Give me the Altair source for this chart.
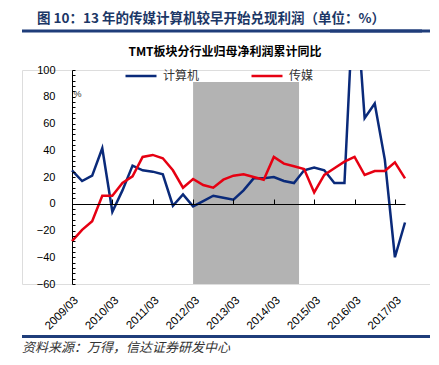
import altair as alt
import pandas as pd

# quarterly index 0 = 2009/03 ... 33 = 2017/06
quarters = [f"{2009 + i // 4}/{['03', '06', '09', '12'][i % 4]}" for i in range(34)]
computer = [25, 17, 21, 41.5, -6, 10, 28.5, 25, 24, 22, -1.5, 7,
            -2, 2, 6, 4.5, 3, 10, 19, 19, 20, 17, 15.5, 25,
            27, 25, 15.5, 15.5, 170, 64, 75, 33, -40, -14]
media = [-28, -19.5, -13, 6, 6, 15.5, 20.5, 35, 36.5, 34, 25, 12,
         18.5, 14, 12, 18, 21, 22, 20, 18, 35, 30, 28, 26,
         8.5, 21.5, 26.5, 31.5, 35, 21.5, 24.5, 24.5, 31, 19]
series_names = ["计算机", "传媒"]
series_colors = ["#0a2a7a", "#e60012"]
band_start, band_end, band_top, band_bottom = [12], [22.5], [91], [-60]
year_ticks = [0, 4, 8, 12, 16, 20, 24, 28, 32]
y_ticks = [-60, -40, -20, 0, 20, 40, 60, 80, 100]
y_minor = list(range(-60, 101, 4))

header_text = "图 10：13 年的传媒计算机较早开始兑现利润（单位：%）"
chart_title = "TMT板块分行业归母净利润累计同比"
footer_text = "资料来源：万得，信达证券研发中心"

CJK = "Noto Sans CJK SC"
LAT = "Liberation Sans"

W, H = 408, 214          # view: page x 22..430, y 70..284
PX0, PX1 = 50, 383       # plotting range inside the view (page x 72..405)

rows = []
for i in range(34):
    rows.append({"idx": i, "q": quarters[i], "series": series_names[0], "value": computer[i]})
    rows.append({"idx": i, "q": quarters[i], "series": series_names[1], "value": media[i]})
df = pd.DataFrame(rows)
band = pd.DataFrame({"x": band_start, "x2": band_end, "y": band_bottom, "y2": band_top})

xs = alt.Scale(domain=[0, 33], range=[PX0, PX1], nice=False, zero=False)
ys = alt.Scale(domain=[-60, 100], nice=False, zero=False)

band_layer = alt.Chart(band).mark_rect(color="#b3b3b3").encode(
    x=alt.X("x:Q", scale=xs, axis=alt.Axis(
        orient="top", offset=-134, values=year_ticks, labels=False, title=None,
        domainColor="#000000", domainWidth=1, tickColor="#000000", tickSize=5,
        grid=False, zindex=1)),
    x2="x2:Q",
    y=alt.Y("y:Q", scale=ys, axis=alt.Axis(
        orient="right", offset=-(W - PX0), values=y_minor, labels=False, domain=False,
        tickColor="#000000", tickSize=3, grid=False, title="%", titleAngle=0,
        titleX=5, titleY=28, titleFontSize=9, titleFont=LAT, titleFontWeight="normal",
        titleColor="#333333", zindex=1)),
    y2="y2:Q",
)

line_layer = alt.Chart(df).mark_line(strokeWidth=2.5, clip=True).encode(
    x=alt.X("idx:Q", scale=xs, axis=alt.Axis(
        orient="bottom", values=year_ticks, domain=False, ticks=False, grid=False,
        labelExpr="toString(2009 + datum.value / 4) + '/03'", labelAngle=-45,
        labelAlign="right", labelBaseline="top", labelPadding=10, labelFont=LAT,
        labelFontSize=11.5, labelColor="#000000", title=None)),
    y=alt.Y("value:Q", scale=ys, axis=alt.Axis(
        orient="left", offset=-PX0, values=y_ticks, ticks=False, grid=False,
        domainColor="#000000", domainWidth=1, labelPadding=17, labelFont=LAT,
        labelFontSize=11, labelColor="#000000", title=None)),
    color=alt.Color("series:N", scale=alt.Scale(domain=series_names, range=series_colors),
                    sort=series_names,
                    legend=alt.Legend(orient="none", legendX=PX0 + 52, legendY=-11,
                                      direction="horizontal", title=None,
                                      symbolType="stroke", symbolSize=961,
                                      symbolStrokeWidth=2.5, columnPadding=46,
                                      labelFont=CJK, labelFontSize=12,
                                      labelColor="#333333", labelOffset=5)),
    order="idx:Q",
)

deco = pd.DataFrame({"header": [header_text], "title": [chart_title], "footer": [footer_text]})
header = alt.Chart(deco).mark_text(align="left", baseline="middle", font=CJK,
                                   fontSize=13.5, fontWeight="bold", color="#1c3766").encode(
    x=alt.value(15), y=alt.value(-51), text="header:N")
title = alt.Chart(deco).mark_text(align="center", baseline="middle", font=CJK,
                                  fontSize=12, fontWeight="bold", color="#000000").encode(
    x=alt.value(PX0 + 153), y=alt.value(-18), text="title:N")


def rule_piece(x0, x1, yy):
    return alt.Chart(deco).mark_rule(color="#1f3d7a", strokeWidth=3).encode(
        x=alt.value(x0), x2=alt.value(x1), y=alt.value(yy))


segments = [(0, 100), (100, 200), (200, 300), (300, 400), (308, W)]
rules = [rule_piece(a, b, -39) for a, b in segments] + \
        [rule_piece(a, b, 266.5) for a, b in segments]

footer = alt.Chart(deco).mark_text(align="left", baseline="middle", font=CJK,
                                   fontSize=13, fontStyle="italic", color="#333333").encode(
    x=alt.value(0), y=alt.value(278), text="footer:N")

chart = alt.layer(band_layer, line_layer, header, title, *rules, footer).resolve_axis(
    x="independent", y="independent"
).resolve_scale(x="shared", y="shared").properties(
    width=W, height=H,
    autosize=alt.AutoSizeParams(type="none"),
    padding={"left": 14, "top": 62, "right": 0, "bottom": 73},
).configure_view(stroke=None).configure(background="#ffffff")

chart.save("out.html", embed_options={"renderer": "svg", "actions": False})
